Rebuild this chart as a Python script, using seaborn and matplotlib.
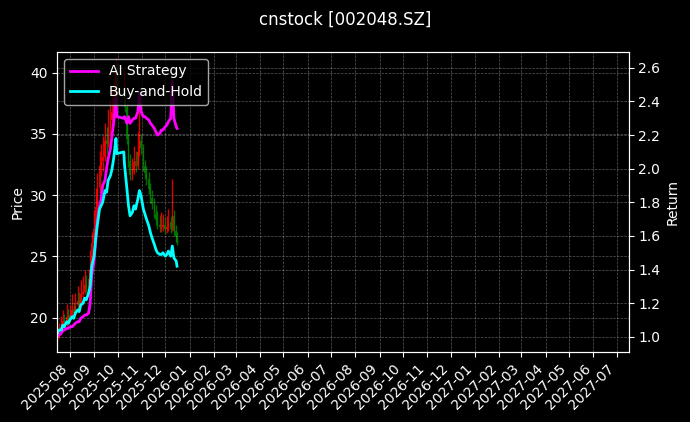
import pandas as pd
import numpy as np
import matplotlib
matplotlib.use('Agg')
import matplotlib.pyplot as plt
import matplotlib.dates as mdates
import seaborn as sns

dates = ['2025-07-16', '2025-07-18', '2025-07-21', '2025-07-23', '2025-07-25', '2025-07-28', '2025-07-30',
         '2025-08-01', '2025-08-04', '2025-08-06', '2025-08-08', '2025-08-11', '2025-08-13', '2025-08-15',
         '2025-08-18', '2025-08-20', '2025-08-22', '2025-08-25', '2025-08-27', '2025-08-29',
         '2025-09-01', '2025-09-03', '2025-09-05', '2025-09-08', '2025-09-10', '2025-09-12', '2025-09-15',
         '2025-09-17', '2025-09-19', '2025-09-22', '2025-09-24', '2025-09-26', '2025-09-29', '2025-09-30',
         '2025-10-09', '2025-10-10', '2025-10-13', '2025-10-15', '2025-10-17', '2025-10-20', '2025-10-22',
         '2025-10-24', '2025-10-27', '2025-10-29', '2025-10-31',
         '2025-11-03', '2025-11-05', '2025-11-07', '2025-11-10', '2025-11-12', '2025-11-14', '2025-11-17',
         '2025-11-19', '2025-11-21', '2025-11-24', '2025-11-26', '2025-11-28',
         '2025-12-01', '2025-12-03', '2025-12-05', '2025-12-08', '2025-12-10', '2025-12-12', '2025-12-15',
         '2025-12-16']

open_px = [18.20, 18.40, 19.00, 19.20, 19.80, 19.50, 20.10,
           19.90, 20.20, 20.70, 20.40, 21.00, 21.40, 21.20,
           21.90, 22.10, 22.70, 22.40, 23.20, 24.00,
           26.10, 27.30, 29.10, 30.60, 32.40, 32.80, 33.10,
           34.50, 34.20, 35.50, 36.10, 36.80, 37.90, 40.10,
           38.50, 38.60, 37.20, 34.60, 32.80, 31.60, 32.00,
           32.80, 32.40, 33.50, 34.40,
           33.90, 32.40, 31.80, 31.30, 30.60, 29.80, 29.30,
           28.50, 28.00, 27.60, 27.40, 27.40,
           27.60, 27.20, 27.40, 27.80, 27.30, 28.30, 27.10,
           26.70]
close_px = [18.40, 18.95, 19.14, 19.69, 19.50, 20.06, 19.87,
            20.24, 20.61, 20.42, 20.98, 21.34, 21.16, 21.90,
            22.08, 22.63, 22.45, 23.18, 23.92, 26.13,
            27.23, 29.07, 30.54, 32.38, 32.75, 33.12, 34.41,
            34.22, 35.51, 36.06, 36.80, 37.90, 40.11, 38.46,
            38.64, 37.17, 34.59, 32.75, 31.65, 32.02, 32.75,
            32.38, 33.49, 34.41, 33.86,
            32.38, 31.83, 31.28, 30.54, 29.81, 29.26, 28.52,
            27.97, 27.60, 27.42, 27.42, 27.60,
            27.23, 27.42, 27.78, 27.23, 28.34, 27.05, 26.68,
            26.13]
high_px = [18.70, 19.60, 20.10, 20.60, 20.30, 21.10, 20.70,
           21.00, 21.90, 21.30, 22.00, 22.60, 22.10, 23.10,
           23.40, 23.90, 23.50, 24.00, 25.50, 27.00,
           28.80, 30.60, 31.80, 33.60, 34.20, 34.80, 35.90,
           35.60, 37.00, 37.80, 38.40, 39.60, 41.20, 40.80,
           40.20, 39.00, 37.40, 35.00, 33.40, 33.00, 34.00,
           33.60, 35.20, 37.00, 35.00,
           34.20, 32.90, 32.40, 31.90, 31.00, 30.40, 29.80,
           29.20, 28.70, 28.40, 28.60, 28.50,
           28.20, 28.30, 28.90, 28.30, 31.30, 28.80, 27.60,
           27.00]
low_px = [18.00, 18.30, 18.80, 19.00, 19.20, 19.30, 19.50,
          19.70, 20.00, 20.10, 20.20, 20.80, 20.90, 21.00,
          21.60, 21.90, 22.00, 22.20, 23.00, 23.80,
          25.80, 27.00, 28.60, 30.20, 31.60, 32.00, 32.80,
          33.40, 33.90, 35.00, 35.60, 36.40, 37.60, 38.00,
          37.60, 36.80, 34.20, 32.30, 31.20, 31.20, 31.70,
          31.90, 32.10, 33.20, 33.40,
          32.00, 31.30, 30.80, 30.10, 29.40, 28.90, 28.10,
          27.60, 27.20, 27.00, 27.00, 27.10,
          26.80, 26.90, 27.10, 26.90, 27.10, 26.70, 26.30,
          25.90]

ai_return = [1.00, 1.01, 1.02, 1.04, 1.04, 1.05, 1.05,
             1.06, 1.06, 1.07, 1.08, 1.09, 1.09, 1.11,
             1.12, 1.13, 1.13, 1.14, 1.20, 1.36,
             1.45, 1.56, 1.68, 1.78, 1.82, 1.90, 1.93,
             2.00, 2.06, 2.12, 2.20, 2.27, 2.42, 2.31,
             2.30, 2.31, 2.27, 2.31, 2.27, 2.29, 2.30,
             2.30, 2.34, 2.45, 2.34,
             2.31, 2.31, 2.30, 2.29, 2.27, 2.26, 2.24,
             2.22, 2.20, 2.21, 2.23, 2.23,
             2.25, 2.26, 2.28, 2.30, 2.52, 2.30, 2.25,
             2.24]
bh_return = [1.02, 1.04, 1.04, 1.07, 1.06, 1.09, 1.08,
             1.10, 1.12, 1.11, 1.14, 1.16, 1.15, 1.19,
             1.20, 1.23, 1.22, 1.26, 1.30, 1.42,
             1.48, 1.58, 1.66, 1.76, 1.78, 1.80, 1.87,
             1.86, 1.93, 1.96, 2.00, 2.06, 2.18, 2.09,
             2.10, 2.02, 1.88, 1.78, 1.72, 1.74, 1.78,
             1.76, 1.82, 1.87, 1.84,
             1.76, 1.73, 1.70, 1.66, 1.62, 1.59, 1.55,
             1.52, 1.50, 1.49, 1.49, 1.50,
             1.48, 1.49, 1.51, 1.48, 1.54, 1.47, 1.45,
             1.42]

df = pd.DataFrame({
    'date': pd.to_datetime(dates),
    'open': open_px, 'close': close_px, 'high': high_px, 'low': low_px,
    'ai': ai_return, 'bh': bh_return,
})

plt.style.use('dark_background')
fig, ax = plt.subplots(figsize=(6.9, 4.22), dpi=100)
fig.subplots_adjust(left=0.083, right=0.911, top=0.877, bottom=0.166)

# Candles (red = up, green = down)
colors = np.where(df['close'] >= df['open'], 'red', 'green')
ax.vlines(df['date'], df['low'], df['high'], colors=colors, linewidth=1.0, alpha=0.85)
ax.bar(df['date'], (df['close'] - df['open']).abs(),
       bottom=df[['open', 'close']].min(axis=1), width=2.0, color=colors, alpha=0.85)
ax.set_ylabel('Price')
ax.set_ylim(17.2, 41.7)
ax.grid(True, linestyle='--', linewidth=0.5, alpha=0.35)

# Returns on the right axis
ax2 = ax.twinx()
sns.lineplot(data=df, x='date', y='ai', ax=ax2, color='magenta', linewidth=2, label='AI Strategy')
sns.lineplot(data=df, x='date', y='bh', ax=ax2, color='cyan', linewidth=2, label='Buy-and-Hold')
ax2.set_ylabel('Return')
ax2.set_xlabel('')
ax2.set_ylim(0.91, 2.695)
ax2.grid(True, linestyle='--', linewidth=0.5, alpha=0.35)
ax2.legend(loc='upper left')

ax.set_xlim(pd.Timestamp('2025-07-16'), pd.Timestamp('2027-07-16'))
ax.set_xlabel('')
ax.xaxis.set_major_locator(mdates.MonthLocator())
ax.xaxis.set_major_formatter(mdates.DateFormatter('%Y-%m'))
plt.setp(ax.get_xticklabels(), rotation=45, ha='right')

fig.suptitle('cnstock [002048.SZ]', fontsize=12, y=0.975)

plt.savefig('out.png', dpi=100)
